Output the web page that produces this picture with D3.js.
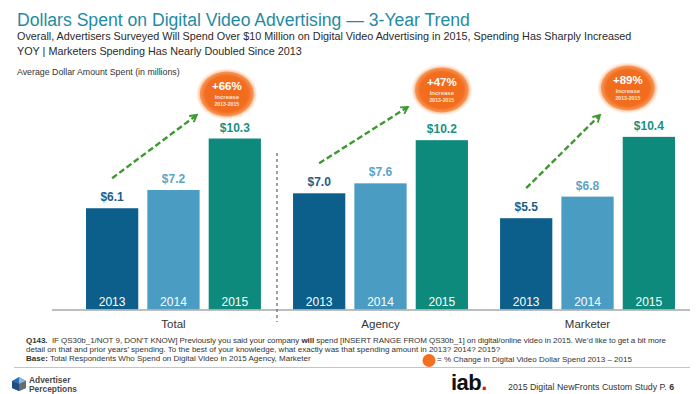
<!DOCTYPE html>
<html>

<head>
  <meta charset="utf-8">
  <title>Digital Video Advertising</title>
  <style>
    body { margin: 0; background: #fff; }
    text { font-family: 'Liberation Sans', Arial, sans-serif; }
  </style>
</head>

<body>
  <div id='chart'></div>

  <script src="https://d3js.org/d3.v7.min.js"></script>
  <script>
    // data
    let groups = ['Total', 'Agency', 'Marketer'];
    let years = ['2013', '2014', '2015'];
    let totalSpend = [6.1, 7.2, 10.3];
    let agencySpend = [7.0, 7.6, 10.2];
    let marketerSpend = [5.5, 6.8, 10.4];
    let increases = ['+66%', '+47%', '+89%'];

    let svgWidth = 700;
    let svgHeight = 394;
    let baseY = 309.5;

    function translate(x, y) {
      return 'translate(' + x + ',' + y + ')';
    }

    let barColor = { '2013': '#0c5f8b', '2014': '#4b9cc2', '2015': '#0e8a7d' };
    let labelColor = { '2013': '#1c5d86', '2014': '#5ba4c7', '2015': '#17917f' };

    let rows = [];
    [totalSpend, agencySpend, marketerSpend].forEach(function (vals, gi) {
      vals.forEach(function (v, yi) {
        rows.push({ group: groups[gi], year: years[yi], value: v });
      });
    });

    let svg = d3.select('#chart').append('svg')
      .attr('width', svgWidth)
      .attr('height', svgHeight);

    let defs = svg.append('defs');
    let grad = defs.append('radialGradient').attr('id', 'orangeGrad');
    grad.append('stop').attr('offset', '0%').attr('stop-color', '#f36a1c');
    grad.append('stop').attr('offset', '80%').attr('stop-color', '#f26d1f');
    grad.append('stop').attr('offset', '100%').attr('stop-color', '#f79a5e');
    defs.append('filter').attr('id', 'glow').attr('x', '-30%').attr('y', '-30%').attr('width', '160%').attr('height', '160%')
      .append('feGaussianBlur').attr('stdDeviation', 1.2);
    defs.append('marker')
      .attr('id', 'chev')
      .attr('viewBox', '0 0 10 10')
      .attr('refX', 8).attr('refY', 5)
      .attr('markerWidth', 4).attr('markerHeight', 4)
      .attr('markerUnits', 'strokeWidth')
      .attr('orient', 'auto')
      .append('path')
      .attr('d', 'M1,1 L8,5 L1,9')
      .style('fill', 'none')
      .style('stroke', '#3b9a2c')
      .style('stroke-width', 2);

    // title block
    svg.append('text').attr('x', 17).attr('y', 26)
      .text('Dollars Spent on Digital Video Advertising \u2014 3-Year Trend')
      .style('font-size', '17.6px').style('fill', '#1f8ba3');
    svg.append('text').attr('x', 17).attr('y', 40)
      .text('Overall, Advertisers Surveyed Will Spend Over $10 Million on Digital Video Advertising in 2015, Spending Has Sharply Increased')
      .style('font-size', '10.8px').style('fill', '#2a2a2a');
    svg.append('text').attr('x', 17).attr('y', 55)
      .text('YOY | Marketers Spending Has Nearly Doubled Since 2013')
      .style('font-size', '10.8px').style('fill', '#2a2a2a');
    svg.append('text').attr('x', 17).attr('y', 75)
      .text('Average Dollar Amount Spent (in millions)')
      .style('font-size', '8.8px').style('fill', '#333');

    // scales
    let x0 = d3.scaleBand().domain(groups).range([86, 675]).paddingInner(0.155);
    let x1 = d3.scaleBand().domain(years).range([0, x0.bandwidth()]).paddingInner(0.148);
    let y = d3.scaleLinear().domain([0, 10]).range([baseY, baseY - 166]);

    let bx = d => x0(d.group) + x1(d.year);

    // bars
    let bars = svg.append('g').attr('class', 'bars');
    bars.selectAll('rect').data(rows).enter()
      .append('rect')
      .attr('x', bx)
      .attr('y', d => y(d.value))
      .attr('width', x1.bandwidth())
      .attr('height', d => baseY - y(d.value))
      .style('fill', d => barColor[d.year]);

    bars.selectAll('.yr').data(rows).enter()
      .append('text')
      .attr('class', 'yr')
      .attr('x', d => bx(d) + x1.bandwidth() / 2)
      .attr('y', baseY - 4)
      .attr('text-anchor', 'middle')
      .text(d => d.year)
      .style('font-size', '12px')
      .style('fill', '#fff');

    bars.selectAll('.val').data(rows).enter()
      .append('text')
      .attr('class', 'val')
      .attr('x', d => bx(d) + x1.bandwidth() / 2)
      .attr('y', d => y(d.value) - 7)
      .attr('text-anchor', 'middle')
      .text(d => '$' + d3.format('.1f')(d.value))
      .style('font-size', '12px')
      .style('font-weight', 'bold')
      .style('fill', d => labelColor[d.year]);

    // baseline + group labels
    svg.append('line')
      .attr('x1', 52).attr('x2', 690)
      .attr('y1', baseY + 0.5).attr('y2', baseY + 0.5)
      .style('stroke', '#a9a9a9').style('stroke-width', 1.5);

    svg.selectAll('.grp').data(groups).enter()
      .append('text')
      .attr('class', 'grp')
      .attr('x', d => x0(d) + x0.bandwidth() / 2)
      .attr('y', 328)
      .attr('text-anchor', 'middle')
      .text(d => d)
      .style('font-size', '11.5px')
      .style('fill', '#333');

    // dashed divider between Total and Agency
    let divX = (x0('Total') + x0.bandwidth() + x0('Agency')) / 2;
    svg.append('line')
      .attr('x1', divX).attr('x2', divX)
      .attr('y1', 153).attr('y2', 322)
      .style('stroke', '#5b7189').style('stroke-width', 1.3)
      .style('stroke-dasharray', '3,3');

    // orange badges + green dashed arrows
    let badgeDx = [-8, 0, -21];
    let badgeY = [94, 90, 88];
    let arrowDx = [-30, -34, -28];
    let arrowDy = [21, 17, 27];
    let spends = [totalSpend, agencySpend, marketerSpend];

    groups.forEach(function (g, gi) {
      let cx = x0(g) + x1('2015') + x1.bandwidth() / 2 + badgeDx[gi];
      let cy = badgeY[gi];
      let sx = x0(g) + x1('2013') + x1.bandwidth() / 2;
      let sy = y(spends[gi][0]) - 30;

      svg.append('line')
        .attr('x1', sx).attr('y1', sy)
        .attr('x2', cx + arrowDx[gi]).attr('y2', cy + arrowDy[gi])
        .style('stroke', '#3b9a2c').style('stroke-width', 2.4)
        .style('stroke-dasharray', '6,3')
        .attr('marker-end', 'url(#chev)');

      let b = svg.append('g').attr('transform', translate(cx, cy));
      b.append('ellipse').attr('rx', 29).attr('ry', 24)
        .style('fill', '#fbc9a6').attr('filter', 'url(#glow)');
      b.append('ellipse').attr('rx', 27).attr('ry', 22.5)
        .style('fill', 'url(#orangeGrad)');
      b.append('text').attr('y', -4).attr('text-anchor', 'middle')
        .text(increases[gi])
        .style('font-size', '11.5px').style('font-weight', 'bold').style('fill', '#fff');
      b.append('text').attr('y', 5).attr('text-anchor', 'middle')
        .text('Increase')
        .style('font-size', '6px').style('font-weight', 'bold').style('fill', '#fde3d2');
      b.append('text').attr('y', 12).attr('text-anchor', 'middle')
        .text('2013-2015')
        .style('font-size', '5.2px').style('font-weight', 'bold').style('fill', '#fde3d2');
    });

    // footnote
    let note = svg.append('g').style('font-size', '8px').style('fill', '#333');
    let l1 = note.append('text').attr('x', 26).attr('y', 343).attr('textLength', 640).attr('lengthAdjust', 'spacing');
    l1.append('tspan').text('Q143.').style('font-weight', 'bold');
    l1.append('tspan').text('  IF QS30b_1/NOT 9, DON\u2019T KNOW] Previously you said your company ').attr('xml:space', 'preserve');
    l1.append('tspan').text('will').style('font-weight', 'bold');
    l1.append('tspan').text(' spend [INSERT RANGE FROM QS30b_1] on digital/online video in 2015.  We\u2019d like to get a bit more');
    note.append('text').attr('x', 26).attr('y', 352)
      .text('detail on that and prior years\u2019 spending.  To the best of your knowledge, what exactly was that spending amount in 2013? 2014? 2015?');
    let l3 = note.append('text').attr('x', 26).attr('y', 361);
    l3.append('tspan').text('Base:').style('font-weight', 'bold');
    l3.append('tspan').text(' Total Respondents Who Spend on Digital Video in 2015 Agency, Marketer');

    svg.append('circle').attr('cx', 429).attr('cy', 360.5).attr('r', 6.5).style('fill', '#f2701f');
    note.append('text').attr('x', 437).attr('y', 362)
      .text('= % Change in Digital Video Dollar Spend  2013 \u2013 2015');

    svg.append('line')
      .attr('x1', 14).attr('x2', 690).attr('y1', 367.5).attr('y2', 367.5)
      .style('stroke', '#c4c4c4').style('stroke-width', 1);

    // logos / page footer
    let ap = svg.append('g').attr('transform', translate(12, 377));
    ap.append('path').attr('d', 'M7,0 L14,4 L14,11 L7,14 L0,11 L0,4 Z').style('fill', '#2a6fb0');
    ap.append('path').attr('d', 'M7,0 L14,4 L7,7 Z').style('fill', '#8fb8dc');
    ap.append('path').attr('d', 'M0,4 L7,7 L7,14 L0,11 Z').style('fill', '#1d4f82');
    ap.append('path').attr('d', 'M7,7 L14,4 L14,11 L7,14 Z').style('fill', '#6b6b6b');
    ap.append('text').attr('x', 17).attr('y', 6).text('Advertiser')
      .style('font-size', '8.4px').style('font-weight', 'bold').style('fill', '#4a4a4a');
    ap.append('text').attr('x', 17).attr('y', 15).text('Perceptions')
      .style('font-size', '8.4px').style('font-weight', 'bold').style('fill', '#4a4a4a');

    let iab = svg.append('text').attr('x', 451).attr('y', 390)
      .style('font-size', '22px').style('font-weight', 'bold').style('letter-spacing', '-0.5px');
    iab.append('tspan').text('iab').style('fill', '#111');
    iab.append('tspan').text('.').style('fill', '#e0122b');

    let foot = svg.append('text').attr('x', 508).attr('y', 390)
      .style('font-size', '8.8px').style('fill', '#333');
    foot.append('tspan').text('2015 Digital NewFronts Custom Study  P. ');
    foot.append('tspan').text('6').style('font-weight', 'bold');
  </script>
</body>

</html>
